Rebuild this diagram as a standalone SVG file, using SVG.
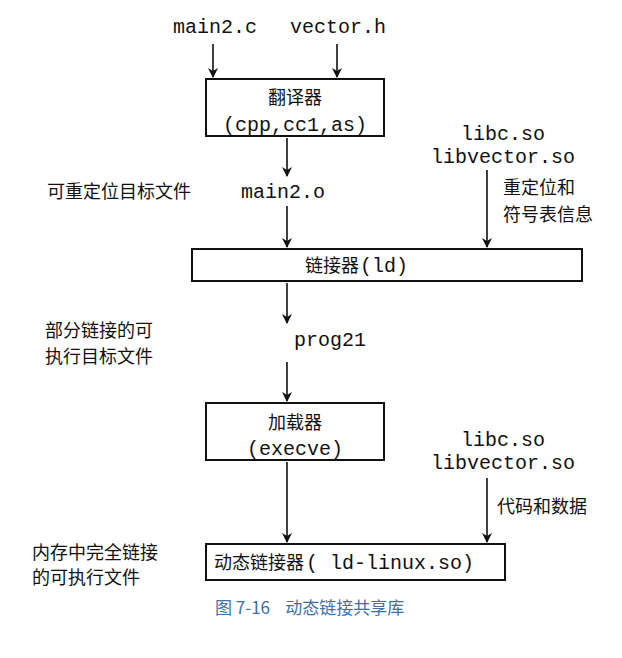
<svg xmlns="http://www.w3.org/2000/svg" width="622" height="658" viewBox="0 0 622 658">
<style>
.m{font-family:"Liberation Mono",monospace;font-size:20px;fill:#111}
.c{font-family:"Noto Sans CJK SC",sans-serif;font-size:18px;fill:#111}
.b{fill:#fff;stroke:#111;stroke-width:2}
.a{stroke:#111;stroke-width:1.6;fill:none;marker-end:url(#ah)}
</style>
<defs><marker id="ah" markerWidth="10" markerHeight="10" refX="9" refY="5" orient="auto" markerUnits="userSpaceOnUse"><path d="M0,0 L10,5 L0,10 L3,5 Z" fill="#111"/></marker></defs>
<rect width="622" height="658" fill="#fff"/>
<g id="connectors">
<line class="a" x1="213" y1="44" x2="213" y2="77"/>
<line class="a" x1="337" y1="44" x2="337" y2="77"/>
<line class="a" x1="287" y1="138" x2="287" y2="176"/>
<line class="a" x1="287" y1="206" x2="287" y2="247"/>
<line class="a" x1="487" y1="170" x2="487" y2="247"/>
<line class="a" x1="287" y1="283" x2="287" y2="323"/>
<line class="a" x1="287" y1="362" x2="287" y2="401"/>
<line class="a" x1="287" y1="462" x2="287" y2="542"/>
<line class="a" x1="487" y1="478" x2="487" y2="542"/>
</g>
<g id="inputs">
<text class="m" x="215" y="33" text-anchor="middle">main2.c</text>
<text class="m" x="338" y="33" text-anchor="middle">vector.h</text>
</g>
<g id="translator">
<rect class="b" x="206" y="79" width="178" height="57"/>
<text class="c" x="295" y="104" text-anchor="middle">翻译器</text>
<text class="m" x="295" y="131" text-anchor="middle">(cpp,cc1,as)</text>
</g>
<g id="libs1">
<text class="m" x="503" y="140" text-anchor="middle">libc.so</text>
<text class="m" x="503" y="163" text-anchor="middle">libvector.so</text>
<text class="c" x="503" y="194">重定位和</text>
<text class="c" x="503" y="221">符号表信息</text>
</g>
<g id="main2o">
<text class="c" x="47" y="198">可重定位目标文件</text>
<text class="m" x="241" y="198">main2.o</text>
</g>
<g id="linker">
<rect class="b" x="192" y="249" width="390" height="32"/>
<text class="c" x="305" y="272">链接器</text>
<text class="m" x="360" y="272">(ld)</text>
</g>
<g id="prog21">
<text class="c" x="45" y="337">部分链接的可</text>
<text class="c" x="45" y="363">执行目标文件</text>
<text class="m" x="294" y="346">prog21</text>
</g>
<g id="loader">
<rect class="b" x="206" y="403" width="178" height="57"/>
<text class="c" x="295" y="429" text-anchor="middle">加载器</text>
<text class="m" x="295" y="455" text-anchor="middle">(execve)</text>
</g>
<g id="libs2">
<text class="m" x="503" y="446" text-anchor="middle">libc.so</text>
<text class="m" x="503" y="469" text-anchor="middle">libvector.so</text>
<text class="c" x="497" y="513">代码和数据</text>
</g>
<g id="mem">
<text class="c" x="32" y="559">内存中完全链接</text>
<text class="c" x="32" y="584">的可执行文件</text>
</g>
<g id="dynlinker">
<rect class="b" x="206" y="544" width="299" height="36"/>
<text class="c" x="214" y="569">动态链接器</text>
<text class="m" x="306" y="569">( ld-linux.so)</text>
</g>
<g id="caption">
<text x="215" y="614" xml:space="preserve" style="font-family:'Noto Sans CJK SC',sans-serif;font-size:17px;fill:#3d6fa8">图 7-16    动态链接共享库</text>
</g>
</svg>
